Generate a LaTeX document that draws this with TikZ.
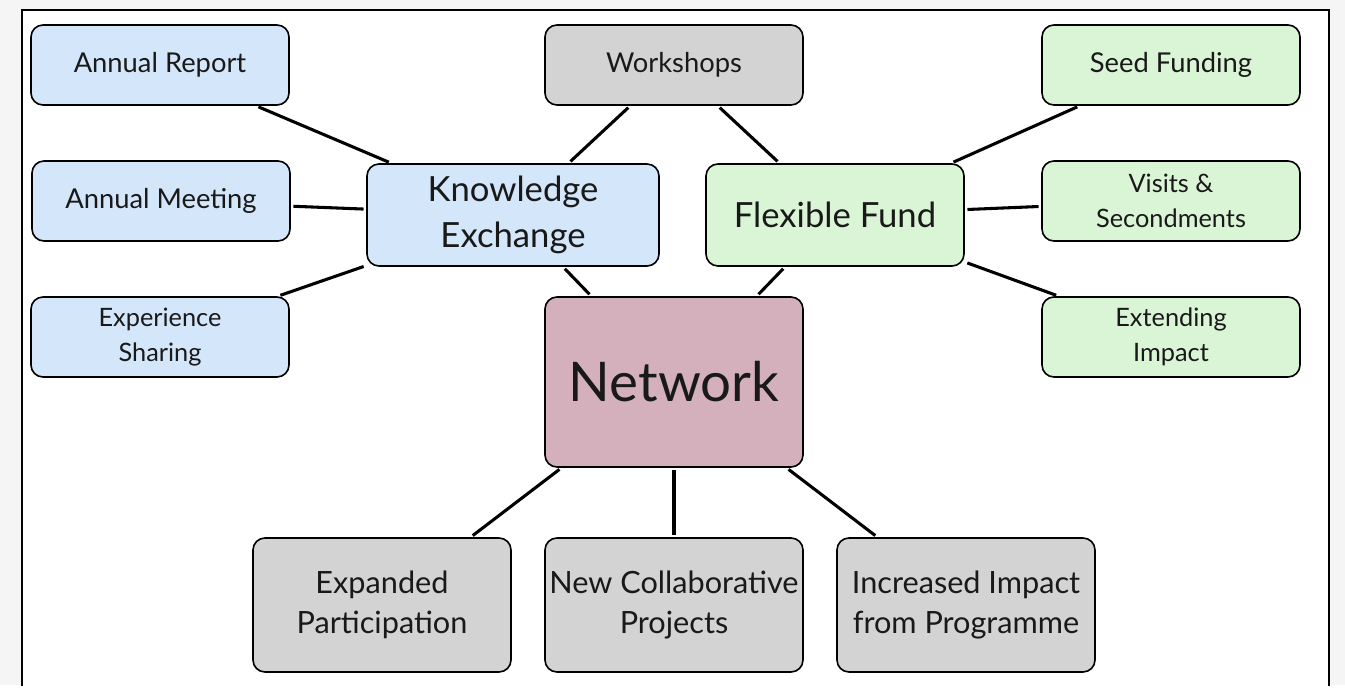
\documentclass[tikz,border=0pt]{standalone}
\usepackage{fontspec}
\setmainfont{Lato}
\definecolor{kblue}{RGB}{212,230,250}
\definecolor{fgreen}{RGB}{218,245,214}
\definecolor{wgray}{RGB}{211,211,211}
\definecolor{netpink}{RGB}{212,176,189}
\definecolor{pagebg}{RGB}{245,245,245}
\tikzset{
  box/.style={draw=black, line width=1.2pt, rounded corners=9pt, align=center,
    minimum width=193.5pt, minimum height=60pt, inner sep=2pt, text=black!90},
  onel/.style={font=\fontsize{20.5}{26}\selectfont},
  twol/.style={font=\fontsize{19}{26}\selectfont},
  midl/.style={font=\fontsize{26}{35}\selectfont, minimum width=219pt, minimum height=76.5pt},
  botl/.style={font=\fontsize{23}{30}\selectfont, minimum height=100.5pt},
  blue/.style={fill=kblue}, green/.style={fill=fgreen}, gray/.style={fill=wgray},
  link/.style={line width=2.3pt, shorten <=2pt, shorten >=2pt}
}
\begin{document}
\begin{tikzpicture}[x=0.75pt,y=-0.75pt]
\fill[pagebg] (0,0) rectangle (1345,685);
\fill[white] (22,10) rectangle (1329,685);
\draw[line width=2.2pt] (22,686) -- (22,10) -- (1329,10) -- (1329,686);
\useasboundingbox (0,0) rectangle (1345,685);

\node[box,blue,onel] (ar) at (160,65) {Annual Report};
\node[box,blue,onel] (am) at (161,201) {Annual Meeting};
\node[box,blue,twol] (es) at (160,337) {Experience\\Sharing};
\node[box,blue,midl] (ke) at (513,215) {Knowledge\\Exchange};
\node[box,gray,onel] (ws) at (674,65) {Workshops};
\node[box,green,midl,minimum width=193.5pt] (ff) at (835,215) {Flexible Fund};
\node[box,green,onel] (sf) at (1171,65) {Seed Funding};
\node[box,green,twol] (vs) at (1171,201) {Visits \&\\Secondments};
\node[box,green,twol] (ei) at (1171,337) {Extending\\Impact};
\node[box,fill=netpink,font=\fontsize{41}{48}\selectfont,minimum height=127.5pt] (nw) at (674,382) {Network};
\node[box,gray,botl] (ep) at (382,605) {Expanded\\Participation};
\node[box,gray,botl] (nc) at (674,605) {New Collaborative\\Projects};
\node[box,gray,botl] (ii) at (966,605) {Increased Impact\\from Programme};

\draw[link] (ar) -- (ke);
\draw[link] (am) -- (ke);
\draw[link] (es) -- (ke);
\draw[link] (ws) -- (ke);
\draw[link] (ws) -- (ff);
\draw[link] (ke) -- (nw);
\draw[link] (ff) -- (nw);
\draw[link] (ff) -- (sf);
\draw[link] (ff) -- (vs);
\draw[link] (ff) -- (ei);
\draw[link] (nw) -- (ep);
\draw[link] (nw) -- (nc);
\draw[link] (nw) -- (ii);
\end{tikzpicture}
\end{document}
